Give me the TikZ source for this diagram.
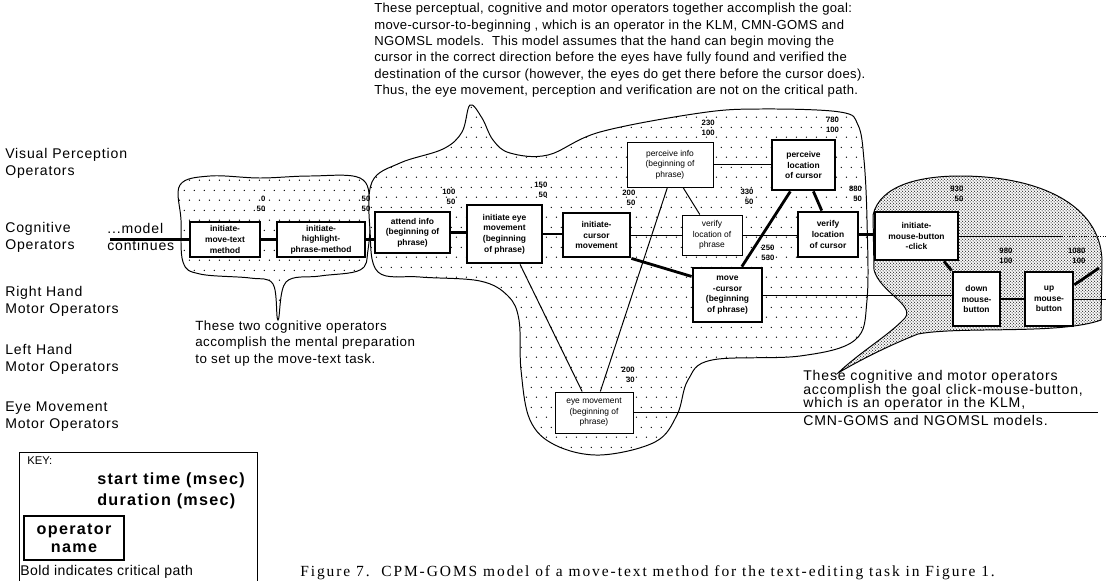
\documentclass[tikz,border=0pt]{standalone}
\usepackage{fontspec}
\setmainfont{Liberation Serif}
\setsansfont{Liberation Sans}
\newfontfamily\capfont{Liberation Serif}
\usetikzlibrary{positioning, calc, patterns}

\pgfdeclarepatternformonly{sparsedots}{\pgfpointorigin}{\pgfqpoint{7pt}{14pt}}{\pgfqpoint{7pt}{14pt}}{%
  \pgfpathcircle{\pgfqpoint{1.75pt}{3.5pt}}{0.5pt}%
  \pgfpathcircle{\pgfqpoint{5.25pt}{10.5pt}}{0.5pt}%
  \pgfusepath{fill}}
\pgfdeclarepatternformonly{densedots}{\pgfpointorigin}{\pgfqpoint{2.4pt}{2.4pt}}{\pgfqpoint{2.4pt}{2.4pt}}{%
  \pgfpathcircle{\pgfqpoint{0.6pt}{0.6pt}}{0.45pt}%
  \pgfpathcircle{\pgfqpoint{1.8pt}{1.8pt}}{0.45pt}%
  \pgfusepath{fill}}

\begin{document}
\begin{tikzpicture}[
    x=0.025cm, y=-0.025cm,
    boxsize/.style 2 args={minimum width=#1*0.025cm, minimum height=#2*0.025cm},
    op/.style={rectangle, draw, fill=white, line width=0.7pt, align=center, inner sep=1pt, font=\sffamily\fontsize{6}{7.5}\selectfont},
    crit/.style={op, line width=2pt, font=\sffamily\bfseries\fontsize{6}{7.5}\selectfont},
    time/.style={anchor=south east, align=right, inner sep=0pt, font=\sffamily\bfseries\fontsize{5.5}{7}\selectfont},
    row/.style={anchor=west, align=left, inner sep=0pt, font=\sffamily\fontsize{10}{12}\selectfont\addfontfeature{LetterSpace=6}},
    note/.style={anchor=north west, align=left, inner sep=0pt, font=\sffamily\fontsize{9.5}{11.4}\selectfont\addfontfeature{LetterSpace=4}},
    keytext/.style={anchor=west, inner sep=0pt, font=\sffamily\bfseries\fontsize{11.5}{13}\selectfont\addfontfeature{LetterSpace=8}},
    link/.style={line width=0.7pt},
    bold/.style={line width=2pt},
    blob/.style={draw, line width=0.7pt, preaction={fill=white}, pattern=sparsedots}
]
\useasboundingbox (0,0) rectangle (1106,580);

% bubbles
\draw[blob] plot[smooth cycle, tension=0.6] coordinates {(180,185) (210,176) (260,178) (310,176) (360,178) (370,205) (368,250) (360,270) (320,276) (286,282) (278,320) (273,284) (250,278) (200,274) (183,262) (181,220)};
\draw[blob] plot[smooth cycle, tension=0.6] coordinates {(372,182) (400,163) (443,149) (462,132) (470,105) (482,118) (493,140) (510,153) (548,155) (600,132) (700,113) (760,109) (840,112) (858,125) (864,160) (867,220) (867,300) (855,340) (800,356) (712,360) (688,380) (677,415) (655,442) (600,455) (555,445) (530,420) (521,370) (519,320) (508,296) (480,281) (420,277) (378,272) (370,230)};
\draw[blob, pattern=densedots] (873,215) .. controls (880,185) and (920,176) .. (960,176)
  .. controls (1040,176) and (1100,205) .. (1102,260) -- (1101,320)
  .. controls (1060,335) and (960,326) .. (918,334)
  .. controls (890,345) and (860,360) .. (838,373)
  .. controls (860,352) and (888,336) .. (905,318)
  .. controls (915,305) and (880,292) .. (874,270) -- cycle;

% row labels
\node (visual) [row] at (5,163.5) {Visual Perception\\Operators};
\node (cog) [row] at (5,237) {Cognitive\\Operators};
\node (rhand) [row] at (5,301.5) {Right Hand\\Motor Operators};
\node (lhand) [row] at (5,359.5) {Left Hand\\Motor Operators};
\node (eye) [row] at (5,416.5) {Eye Movement\\Motor Operators};
\node (cont) [row] at (107,237) {...model\\continues};
\coordinate (contstart) at (110,239.5);

% operators
\node (mtm) [crit, boxsize={70}{35}] at (225,239.5) {initiate-\\move-text\\method};
\node (hpm) [crit, boxsize={88}{35}] at (321,239.5) {initiate-\\highlight-\\phrase-method};
\node (attend) [crit, boxsize={75}{41}] at (412.5,232.5) {attend info\\(beginning of\\phrase)};
\node (eyeinit) [crit, boxsize={75}{58}] at (504.5,234) {initiate eye\\movement\\(beginning\\of phrase)};
\node (curinit) [crit, boxsize={67}{44}] at (596.5,235) {initiate-\\cursor\\movement};
\node (perceive) [op, boxsize={86}{45}] at (670,164.5) {perceive info\\(beginning of\\phrase)};
\node (verphr) [op, boxsize={60}{40}] at (712,235) {verify\\location of\\phrase};
\node (perccur) [crit, boxsize={63}{50}] at (803.5,165) {perceive\\location\\of cursor};
\node (vercur) [crit, boxsize={60}{45}] at (828,234.5) {verify\\location\\of cursor};
\node (movecur) [crit, boxsize={69}{54}] at (727.5,295) {move\\-cursor\\(beginning\\of phrase)};
\node (eyemove) [op, boxsize={78}{41}] at (594,412.5) {eye movement\\(beginning of\\phrase)};
\node (clickinit) [crit, boxsize={83}{48}] at (916.5,236) {initiate-\\mouse-button\\-click};
\node (down) [crit, boxsize={47}{54}] at (976.5,299) {down\\mouse-\\button};
\node (up) [crit, boxsize={48}{54}] at (1049,299) {up\\mouse-\\button};

% connectors
\coordinate (cogdots) at (1062,236);
\coordinate (cogend) at (1106,236);
\coordinate (rhend) at (1106,300);
\coordinate (rhnext) at (1099,268);
\coordinate (eyeend) at (1098,413);
\draw[bold] (contstart) -- (mtm.west);
\draw[bold] (mtm.east) -- (mtm.east -| hpm.west);
\draw[bold] (hpm.east) -- (hpm.east -| attend.west);
\draw[bold] (attend.east) -- (attend.east -| eyeinit.west);
\draw[bold] (eyeinit.east) -- (eyeinit.east -| curinit.west);
\draw[link] (curinit.east) -- (curinit.east -| verphr.west);
\draw[link] (verphr.east) -- (verphr.east -| vercur.west);
\draw[bold] (vercur.east) -- (vercur.east -| clickinit.west);
\draw[link] (clickinit.east) -- (clickinit.east -| cogdots);
\draw[link, densely dotted] (clickinit.east -| cogdots) -- (clickinit.east -| cogend);
\draw[bold] (curinit.south east) -- ([yshift=-7pt]movecur.north west);
\draw[bold] ($(movecur.north west)!0.7!(movecur.north east)$) -- ($(perccur.south west)!0.3!(perccur.south east)$);
\draw[bold] ($(perccur.south west)!0.65!(perccur.south east)$) -- ($(vercur.north west)!0.4!(vercur.north east)$);
\draw[link] (perceive.east) -- (perceive.east -| perccur.west);
\draw[link] ($(perceive.south west)!0.65!(perceive.south east)$) -- ($(verphr.north west)!0.3!(verphr.north east)$);
\draw[link] ($(perceive.south west)!0.47!(perceive.south east)$) -- ($(eyemove.north west)!0.58!(eyemove.north east)$);
\draw[link] ($(eyeinit.south west)!0.7!(eyeinit.south east)$) -- ($(eyemove.north west)!0.35!(eyemove.north east)$);
\draw[link] (eyemove.east) -- (eyemove.east -| eyeend);
\draw[link] (movecur.east) -- (movecur.east -| down.west);
\draw[bold] ($(clickinit.south west)!0.82!(clickinit.south east)$) -- (down.north west);
\draw[bold] (down.east) -- (down.east -| up.west);
\draw[bold] ($(up.north east)!0.25!(up.south east)$) -- (rhnext);
\draw[link] (up.east) -- (up.east -| rhend);

% start times and durations
\node (tmtm) [time] at ([xshift=3pt, yshift=6pt]mtm.north east) {0\\50};
\node (thpm) [time] at ([xshift=3pt, yshift=6pt]hpm.north east) {50\\50};
\node (tattend) [time] at ([xshift=3pt, yshift=4pt]attend.north east) {100\\50};
\node (teyeinit) [time] at ([xshift=3pt, yshift=4pt]eyeinit.north east) {150\\50};
\node (tcurinit) [time] at ([xshift=3pt, yshift=4pt]curinit.north east) {200\\50};
\node (tperceive) [time] at ([xshift=1pt, yshift=4pt]perceive.north east) {230\\100};
\node (tverphr) [time] at ([xshift=8pt, yshift=7pt]verphr.north east) {330\\50};
\node (tperccur) [time] at ([xshift=2pt, yshift=4pt]perccur.north east) {780\\100};
\node (tvercur) [time] at ([xshift=2pt, yshift=6pt]vercur.north east) {880\\50};
\node (tmovecur) [time] at ([xshift=8pt, yshift=4pt]movecur.north east) {250\\530};
\node (teyemove) [time] at ([xshift=1pt, yshift=6pt]eyemove.north east) {200\\30};
\node (tclickinit) [time] at ([xshift=3pt, yshift=6pt]clickinit.north east) {930\\50};
\node (tdown) [time] at ([xshift=8pt, yshift=5pt]down.north east) {980\\100};
\node (tup) [time] at ([xshift=8pt, yshift=5pt]up.north east) {1080\\100};

% comments
\node (topnote) [note, font=\sffamily\fontsize{9.3}{11.6}\selectfont\addfontfeature{LetterSpace=2.5}] at (374,3) {These perceptual, cognitive and motor operators together accomplish the goal:\\
move-cursor-to-beginning , which is an operator in the KLM, CMN-GOMS and\\
NGOMSL models.\ \ This model assumes that the hand can begin moving the\\
cursor in the correct direction before the eyes have fully found and verified the\\
destination of the cursor (however, the eyes do get there before the cursor does).\\
Thus, the eye movement, perception and verification are not on the critical path.};
\node (leftnote) [note] at (195,321) {These two cognitive operators\\accomplish the mental preparation\\to set up the move-text task.};
\node (rightnote) [note, font=\sffamily\fontsize{10}{9.7}\selectfont\addfontfeature{LetterSpace=6}] at (803,370) {These cognitive and motor operators\\accomplish the goal click-mouse-button,\\which is an operator in the KLM,\\[3pt]CMN-GOMS and NGOMSL models.};

% key
\node (key) [draw, line width=0.7pt, anchor=north west, boxsize={238}{140}] at (19,452) {};
\node (keylbl) [anchor=north west, inner sep=0pt, font=\sffamily\fontsize{8}{9}\selectfont] at (27,456) {KEY:};
\node (keystart) [keytext] at (97,480) {start time (msec)};
\node (keydur) [keytext] at (97,501) {duration (msec)};
\node (keyop) [crit, boxsize={100}{44}, font=\sffamily\bfseries\fontsize{11.5}{13}\selectfont\addfontfeature{LetterSpace=8}] at (74,538) {operator\\name};
\node (keybold) [anchor=west, inner sep=0pt, font=\sffamily\fontsize{10}{11}\selectfont\addfontfeature{LetterSpace=3}] at (20,572) {Bold indicates critical path};

\node (caption) [anchor=west, inner sep=0pt, font=\capfont\fontsize{11}{12}\selectfont\addfontfeature{LetterSpace=12.5}] at (300,573) {Figure 7.\ \ CPM-GOMS model of a move-text method for the text-editing task in Figure 1.};

\end{tikzpicture}
\end{document}
